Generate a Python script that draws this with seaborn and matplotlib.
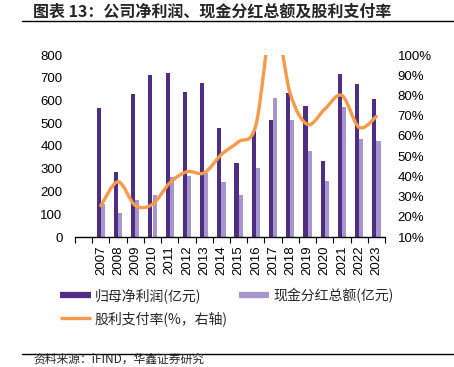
import matplotlib
matplotlib.use("Agg")
import matplotlib.pyplot as plt
import seaborn as sns
import pandas as pd
import numpy as np
from matplotlib.path import Path
from matplotlib.patches import PathPatch
from matplotlib.lines import Line2D

years = ['2007', '2008', '2009', '2010', '2011', '2012', '2013', '2014', '2015',
         '2016', '2017', '2018', '2019', '2020', '2021', '2022', '2023']
net_profit = [568, 287, 630, 710, 720, 638, 676, 478, 326, 468, 515, 635, 578, 336, 715, 673, 608]
dividend = [145, 107, 161, 186, 264, 270, 282, 243, 186, 305, 610, 513, 380, 246, 572, 432, 423]
payout = [25.5, 37.3, 25.6, 26.2, 36.7, 42.3, 41.7, 50.8, 57.1, 65.2, 118.5, 80.8, 65.7, 73.2, 80.0, 64.2, 69.6]

name_np = '归母净利润(亿元)'
name_dv = '现金分红总额(亿元)'
name_po = '股利支付率(%，右轴)'
c_dark = '#4F2D84'
c_light = '#A596CD'
c_orange = '#F79A4A'

sns.set_theme(style="white")
plt.rcParams['font.family'] = ['Liberation Sans', 'Noto Sans CJK SC']
cjk = ['Noto Sans CJK SC', 'DejaVu Sans']

df = pd.DataFrame({'year': years * 2,
                   'value': net_profit + dividend,
                   'series': [name_np] * len(years) + [name_dv] * len(years)})

fig = plt.figure(figsize=(4.54, 3.67), dpi=100)
ax = fig.add_axes([75 / 454, 130 / 367, 310 / 454, 182 / 367])

sns.barplot(data=df, x='year', y='value', hue='series', order=years,
            palette={name_np: c_dark, name_dv: c_light}, width=0.48,
            saturation=1, linewidth=0, legend=False, ax=ax)
ax.set_xlim(-1.5, len(years) - 0.5)
ax.set_ylim(0, 800)
ax.set_yticks(range(0, 801, 100))
ax.set_xlabel('')
ax.set_ylabel('')
for s in ['left', 'right', 'top']:
    ax.spines[s].set_visible(False)
ax.spines['bottom'].set_color('black')
ax.spines['bottom'].set_linewidth(1.0)
ax.set_xticks(np.arange(-1.5, len(years), 1.0), minor=True)
ax.tick_params(axis='x', which='minor', direction='out', length=4, width=0.8, color='black', bottom=True)
ax.tick_params(axis='x', which='major', length=0, pad=6, labelsize=9.5, labelrotation=90, colors='black')
ax.tick_params(axis='y', length=0, pad=9, labelsize=9.5, colors='black')

# payout ratio on right axis, smoothed like the original chart
ax2 = ax.twinx()
ax2.set_ylim(0.10, 1.00)
ax2.set_yticks(np.arange(0.1, 1.01, 0.1))
ax2.set_yticklabels([f'{int(round(v * 100))}%' for v in np.arange(0.1, 1.01, 0.1)])
ax2.tick_params(axis='y', length=0, pad=9, labelsize=9.5, colors='black')
for s in ax2.spines.values():
    s.set_visible(False)
ax2.grid(False)
ax.grid(False)

xs = np.arange(len(years), dtype=float)
ys = np.array(payout) / 100.0
pts = np.column_stack([xs, ys])
verts = [pts[0]]
codes = [Path.MOVETO]
for i in range(len(pts) - 1):
    p0 = pts[i - 1] if i > 0 else pts[i]
    p3 = pts[i + 2] if i + 2 < len(pts) else pts[i + 1]
    c1 = pts[i] + (pts[i + 1] - p0) / 6.0
    c2 = pts[i + 1] - (p3 - pts[i]) / 6.0
    verts += [c1, c2, pts[i + 1]]
    codes += [Path.CURVE4] * 3
ax2.add_patch(PathPatch(Path(verts, codes), fill=False, edgecolor=c_orange, lw=2.4,
                        capstyle='round', joinstyle='round'))

# legend
handles = [Line2D([], [], color=c_dark, lw=4.5, solid_capstyle='butt'),
           Line2D([], [], color=c_orange, lw=2.4, solid_capstyle='butt'),
           Line2D([], [], color=c_light, lw=4.5, solid_capstyle='butt')]
fig.legend(handles, [name_np, name_po, name_dv], ncol=2, loc='upper left',
           bbox_to_anchor=(60 / 454, 1 - 288 / 367), frameon=False,
           prop={'family': cjk, 'size': 10}, handlelength=2.2, handletextpad=0.3,
           columnspacing=0.8, labelspacing=0.6, borderpad=0, borderaxespad=0)

# title, rules, source
fig.text(33 / 454, 1 - 12 / 367, '图表 13：公司净利润、现金分红总额及股利支付率',
         family=cjk, fontsize=11.5, fontweight='bold', va='center', ha='left')
fig.add_artist(Line2D([22 / 454, 1], [1 - 21 / 367, 1 - 21 / 367], color='black', lw=1.0))
fig.add_artist(Line2D([22 / 454, 1], [1 - 354 / 367, 1 - 354 / 367], color='black', lw=1.0))
fig.text(33 / 454, 1 - 366 / 367, '资料来源：iFIND，华鑫证券研究',
         family=cjk, fontsize=8.5, va='bottom', ha='left')

fig.savefig('out.png', dpi=100)
